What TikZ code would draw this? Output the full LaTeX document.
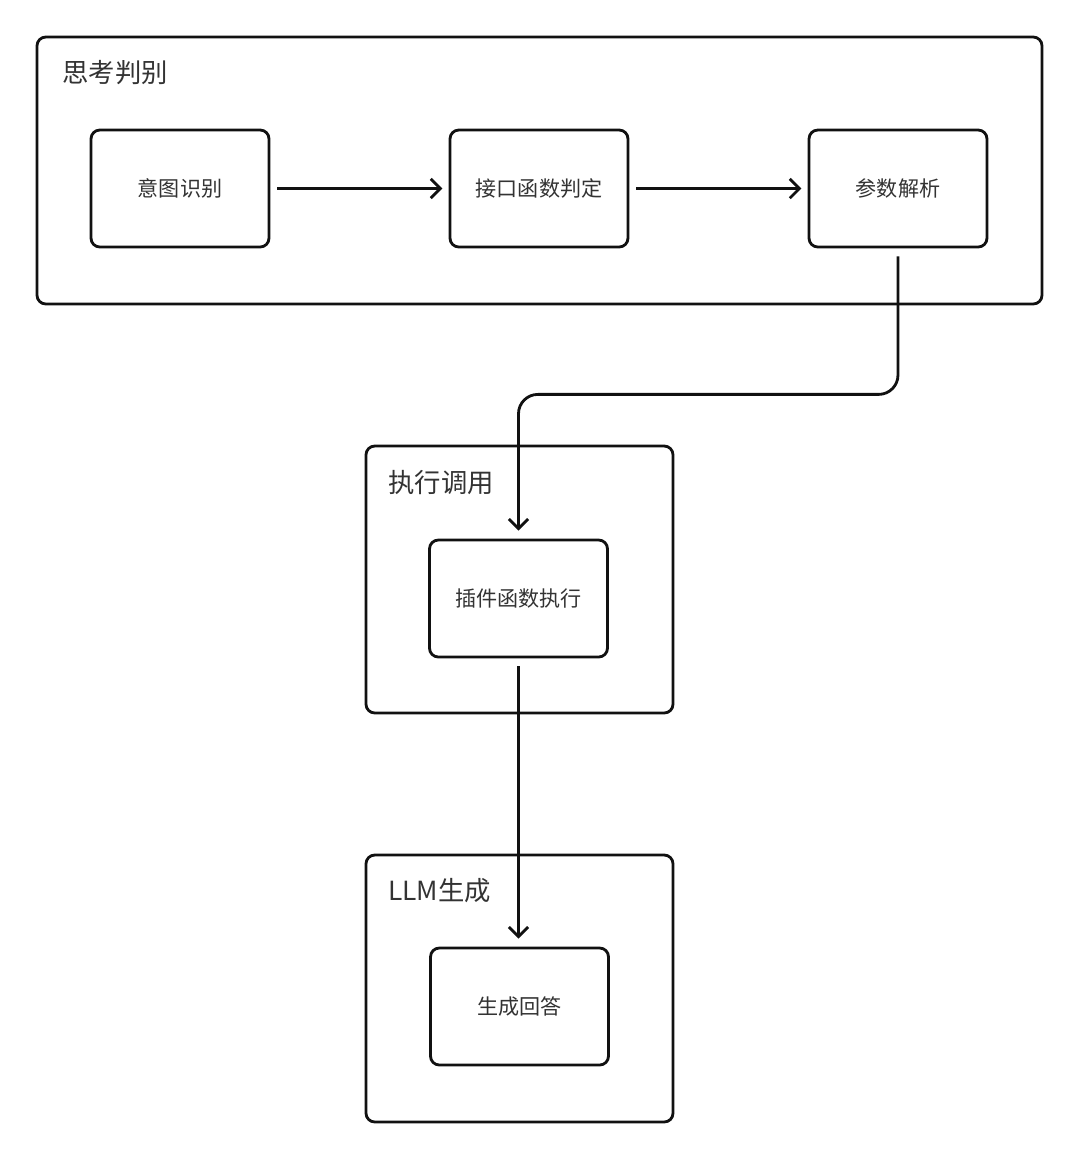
\documentclass[tikz,border=0pt]{standalone}
\usepackage{fontspec}
\newfontfamily\cjk{Noto Sans CJK SC}
\usetikzlibrary{arrows.meta, positioning}
\definecolor{lnInk}{HTML}{111111}
\definecolor{txInk}{HTML}{333333}

\begin{document}
\begin{tikzpicture}[x=0.02cm, y=-0.02cm, >={Straight Barb[length=5.5pt, width=11pt]},
  group/.style={draw=lnInk, line width=1.6pt, rounded corners=5pt},
  grouplabel/.style={anchor=west, inner sep=0pt, text=txInk, font=\cjk\fontsize{15}{18}\selectfont},
  stepbox/.style={draw=lnInk, line width=1.6pt, rounded corners=5pt, minimum width=3.56cm,
                  minimum height=2.34cm, text=txInk, font=\cjk\fontsize{12}{14}\selectfont},
  conn/.style={->, draw=lnInk, line width=1.6pt}]
  \useasboundingbox (0,0) rectangle (1080,1161);
  % groups
  \draw[group] (37,37) rectangle (1042,304);
  \draw[group] (366,446) rectangle (673,713);
  \draw[group] (366,855) rectangle (673,1122);
  \node[grouplabel] (thinklbl) at (62,73) {思考判别};
  \node[grouplabel] (calllbl) at (388,483) {执行调用};
  \node[grouplabel] (llmlbl) at (388,891) {LLM生成};
  % steps
  \node[stepbox] (intent) at (180,188.5) {意图识别};
  \node[stepbox] (api) at (539,188.5) {接口函数判定};
  \node[stepbox] (parse) at (898,188.5) {参数解析};
  \node[stepbox] (plugin) at (518.5,598.5) {插件函数执行};
  \node[stepbox] (answer) at (519.5,1006.5) {生成回答};
  % connectors
  \draw[conn, shorten <=4pt, shorten >=3.5pt] (intent) -- (api);
  \draw[conn, shorten <=4pt, shorten >=3.5pt] (api) -- (parse);
  \draw[conn, rounded corners=11pt, shorten <=4.5pt, shorten >=4.5pt]
    (parse.south) -- ++(0,146) -| (plugin.north);
  \draw[conn, shorten <=4.5pt, shorten >=4.5pt] (plugin.south) -- (plugin.south |- answer.north);
\end{tikzpicture}
\end{document}
